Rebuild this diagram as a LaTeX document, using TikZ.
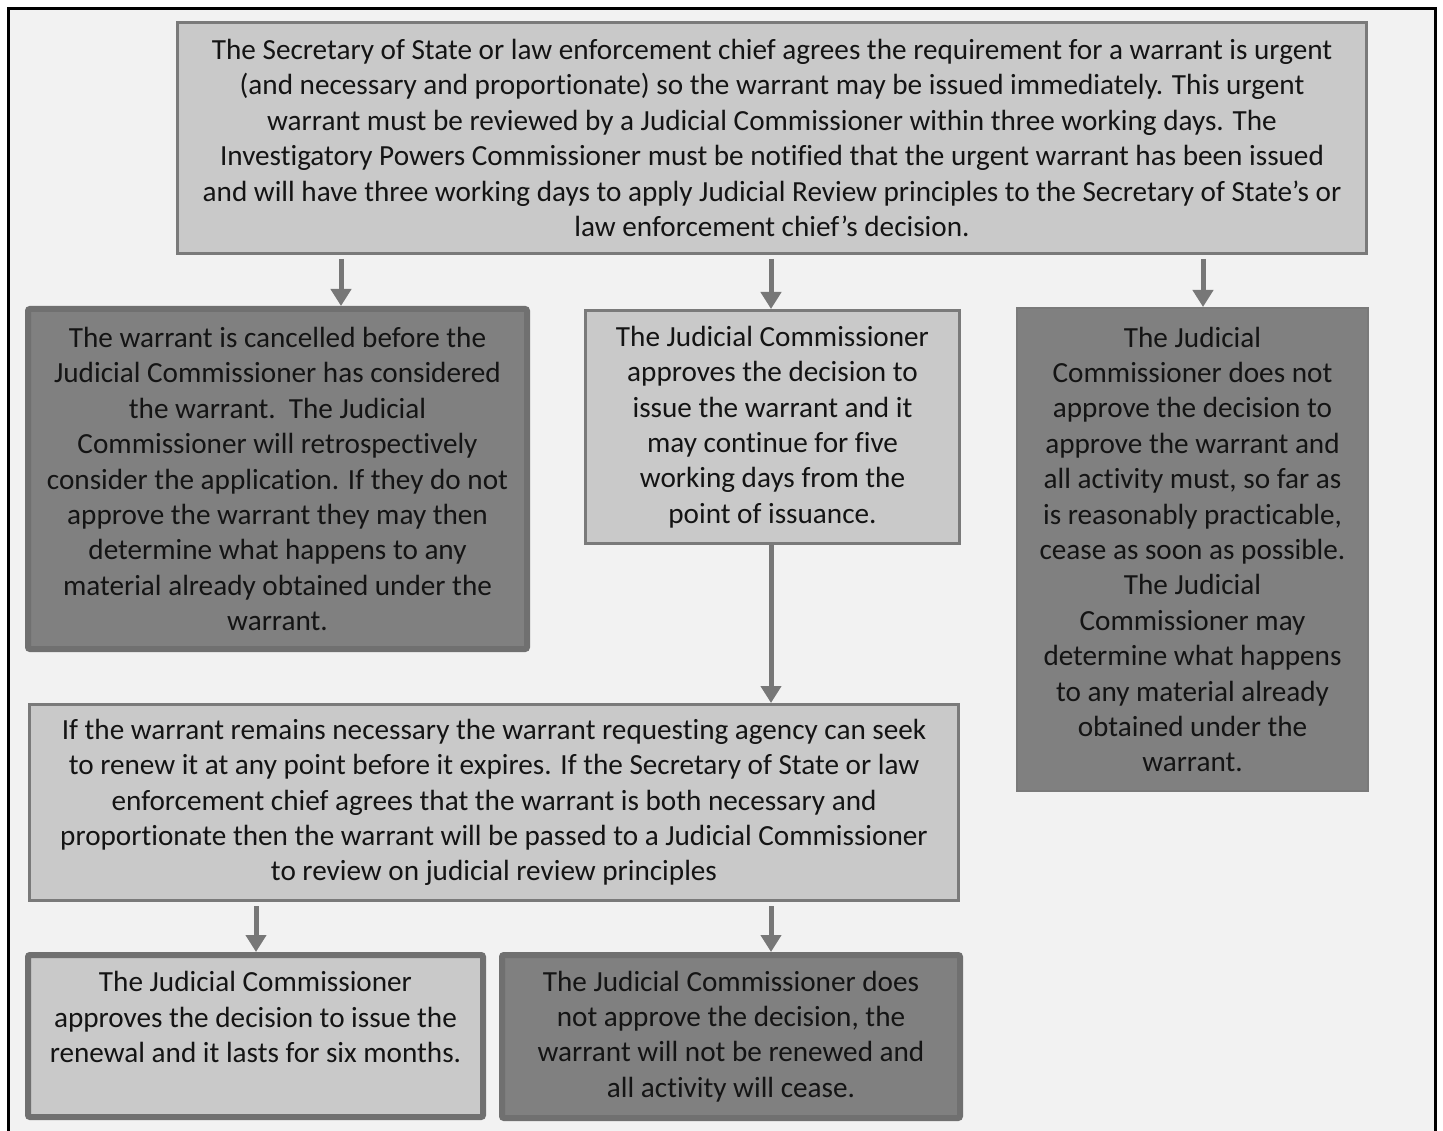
\documentclass[tikz,border=0pt]{standalone}
\usepackage{fontspec}
\setmainfont{Carlito}[Ligatures=NoCommon]
\usetikzlibrary{arrows.meta}
\definecolor{pagebg}{HTML}{F2F2F2}
\definecolor{lightbox}{HTML}{C9C9C9}
\definecolor{darkbox}{HTML}{808080}
\definecolor{edge}{HTML}{7A7A7A}
\definecolor{darkedge}{HTML}{707070}
\definecolor{arrowgray}{HTML}{777777}
\definecolor{ink}{HTML}{141414}
\begin{document}
\begin{tikzpicture}[x=1pt,y=-1pt,
	font=\fontsize{29.2}{35.4}\selectfont,
	box/.style={draw=edge,line width=3pt,fill=lightbox,text=ink,align=center,inner sep=0pt},
	thickbox/.style={box,draw=darkedge,line width=6pt,rounded corners=2pt},
	dark/.style={fill=darkbox},
	arr/.style={draw=arrowgray,line width=5pt,-{Triangle[width=20pt,length=17pt]}}]
	\useasboundingbox (0,0) rectangle (1443,1131);
	\fill[white] (0,0) rectangle (1443,1131);
	\fill[pagebg] (8.5,8.5) rectangle (1435.5,1150);
	\draw[black,line width=3.5pt] (8.5,1150) -- (8.5,8.5) -- (1435.5,8.5) -- (1435.5,1150);
	% urgent warrant issued
	\node[box,minimum width=1189pt,minimum height=231pt] (issue) at (772,138)
		{The Secretary of State or law enforcement chief agrees the requirement for a warrant is urgent\\
		(and necessary and proportionate) so the warrant may be issued immediately. This urgent\\
		warrant must be reviewed by a Judicial Commissioner within three working days. The\\
		Investigatory Powers Commissioner must be notified that the urgent warrant has been issued\\
		and will have three working days to apply Judicial Review principles to the Secretary of State’s or\\
		law enforcement chief’s decision.};
	% three outcomes
	\node[thickbox,dark,minimum width=499pt,minimum height=340pt] (cancel) at (277.5,479)
		{The warrant is cancelled before the\\
		Judicial Commissioner has considered\\
		the warrant.\ \ The Judicial\\
		Commissioner will retrospectively\\
		consider the application. If they do not\\
		approve the warrant they may then\\
		determine what happens to any\\
		material already obtained under the\\
		warrant.};
	\node[box,minimum width=374pt,minimum height=233pt] (approve) at (772.5,427)
		{The Judicial Commissioner\\
		approves the decision to\\
		issue the warrant and it\\
		may continue for five\\
		working days from the\\
		point of issuance.};
	\node[box,dark,line width=2pt,minimum width=351pt,minimum height=483pt] (refuse) at (1192.5,549.5)
		{The Judicial\\
		Commissioner does not\\
		approve the decision to\\
		approve the warrant and\\
		all activity must, so far as\\
		is reasonably practicable,\\
		cease as soon as possible.\\
		The Judicial\\
		Commissioner may\\
		determine what happens\\
		to any material already\\
		obtained under the\\
		warrant.};
	% renewal
	\node[box,minimum width=929pt,minimum height=196pt] (renew) at (494,802.5)
		{If the warrant remains necessary the warrant requesting agency can seek\\
		to renew it at any point before it expires. If the Secretary of State or law\\
		enforcement chief agrees that the warrant is both necessary and\\
		proportionate then the warrant will be passed to a Judicial Commissioner\\
		to review on judicial review principles};
	\node[thickbox,minimum width=455pt,minimum height=162pt] (renewok) at (255.5,1036)
		{The Judicial Commissioner\\
		approves the decision to issue the\\
		renewal and it lasts for six months.\\[-8pt]
		\strut};
	\node[thickbox,dark,minimum width=458pt,minimum height=163pt] (renewno) at (731,1036.5)
		{The Judicial Commissioner does\\
		not approve the decision, the\\
		warrant will not be renewed and\\
		all activity will cease.};
	% arrow columns
	\coordinate (ca) at (341,0);
	\coordinate (cb) at (771,0);
	\coordinate (cc) at (1203,0);
	\coordinate (cd) at (256,0);
	\draw[arr,shorten <=4pt] (issue.south -| ca) -- (cancel.north -| ca);
	\draw[arr,shorten <=4pt] (issue.south -| cb) -- (approve.north -| cb);
	\draw[arr,shorten <=4pt] (issue.south -| cc) -- (refuse.north -| cc);
	\draw[arr] (approve.south -| cb) -- (renew.north -| cb);
	\draw[arr,shorten <=4pt] (renew.south -| cd) -- (renewok.north -| cd);
	\draw[arr,shorten <=4pt] (renew.south -| cb) -- (renewno.north -| cb);
\end{tikzpicture}
\end{document}
